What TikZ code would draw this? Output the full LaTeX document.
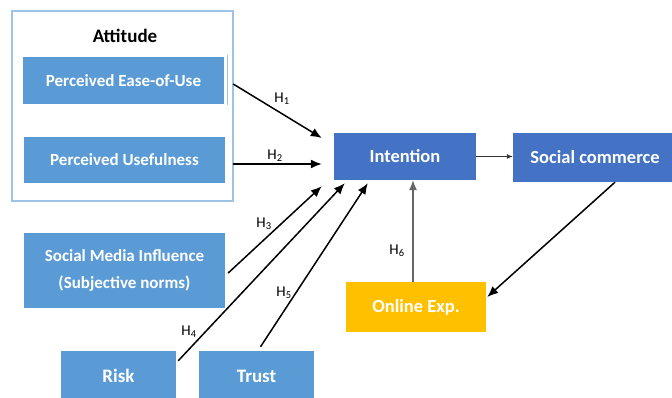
\documentclass[tikz,border=0pt]{standalone}
\usepackage{fontspec}
\setmainfont{Carlito}
\usepackage{tikz}
\usetikzlibrary{arrows,arrows.meta,calc}
\definecolor{boxblue}{HTML}{5B9BD5}
\definecolor{darkblue}{HTML}{4472C4}
\definecolor{expyellow}{HTML}{FFC000}
\definecolor{attborder}{HTML}{9DC3E6}
\tikzstyle{factor}=[fill=boxblue, text=white, font=\fontsize{17}{27}\selectfont\bfseries, align=center, inner sep=0pt]
\tikzstyle{core}=[fill=darkblue, text=white, font=\fontsize{18.5}{20}\selectfont\bfseries, inner sep=0pt]
\tikzstyle{hyp}=[-{Latex[length=11pt,width=9pt]}, line width=1.5pt]
\tikzstyle{hlabel}=[font=\fontsize{15}{17}\selectfont]

\begin{document}
\begin{tikzpicture}[x=1pt, y=-1pt]
	\useasboundingbox (0,0) rectangle (672,398);
	% attitude block
	\draw[attborder, line width=1.2pt] (12,11) rectangle (233,201);
	\node[font=\fontsize{19}{20}\selectfont\bfseries] (att) at (125,36) {Attitude};
	\node[factor, minimum width=201pt, minimum height=47pt] (peou) at (123.5,80.5) {Perceived Ease-of-Use};
	\draw[attborder, line width=1pt] (227,55) -- (227,105);
	\node[factor, minimum width=201pt, minimum height=46pt] (pu) at (124.5,160) {Perceived Usefulness};
	% other factors
	\node[factor, minimum width=201pt, minimum height=75pt] (smi) at (124.5,270.5) {Social Media Influence\\(Subjective norms)};
	\node[factor, font=\fontsize{19}{20}\selectfont\bfseries, minimum width=115pt, minimum height=50pt] (risk) at (118.5,376) {Risk};
	\node[factor, font=\fontsize{19}{20}\selectfont\bfseries, minimum width=115pt, minimum height=50pt] (trust) at (256.5,376) {Trust};
	% core
	\node[core, minimum width=142pt, minimum height=47pt] (int) at (405,156.5) {Intention};
	\node[core, minimum width=164pt, minimum height=49pt] (sc) at (595,157.5) {Social commerce};
	\node[core, fill=expyellow, minimum width=140pt, minimum height=50pt] (oe) at (416,307) {Online Exp.};
	% hypotheses
	\draw[hyp] ([xshift=9pt,yshift=-3.5pt]peou.east) -- ([xshift=-12pt,yshift=18.5pt]int.west);
	\draw[hyp] ([xshift=8pt,yshift=-4pt]pu.east) -- ([xshift=-12pt,yshift=-7.5pt]int.west);
	\draw[hyp] ([xshift=3pt,yshift=-2.5pt]smi.east) -- ([xshift=-12pt,yshift=-6pt]int.south west);
	\draw[hyp] ([xshift=2pt,yshift=-10pt]risk.north east) -- ([xshift=11pt,yshift=-3pt]int.south west);
	\draw[hyp] ([xshift=4pt,yshift=4pt]trust.north) -- ([xshift=34pt,yshift=-3pt]int.south west);
	\draw[-{Latex[length=10pt,width=8pt]}, line width=1.2pt, gray!80!black] ([xshift=-3pt]oe.north) -- ([xshift=-3pt]oe.north |- int.south);
	\draw[-{Latex[length=6pt,width=5pt]}, line width=0.9pt, black!80] (int.east) -- (int.east -| sc.west);
	\draw[hyp] ([xshift=20pt]sc.south) -- ([xshift=1pt,yshift=10pt]oe.east);
	\node[hlabel] (h1) at (282,99) {H\textsubscript{1}};
	\node[hlabel] (h2) at (275,156) {H\textsubscript{2}};
	\node[hlabel] (h3) at (264,224) {H\textsubscript{3}};
	\node[hlabel] (h4) at (189,332) {H\textsubscript{4}};
	\node[hlabel] (h5) at (284,293) {H\textsubscript{5}};
	\node[hlabel] (h6) at (397,251) {H\textsubscript{6}};
\end{tikzpicture}
\end{document}
